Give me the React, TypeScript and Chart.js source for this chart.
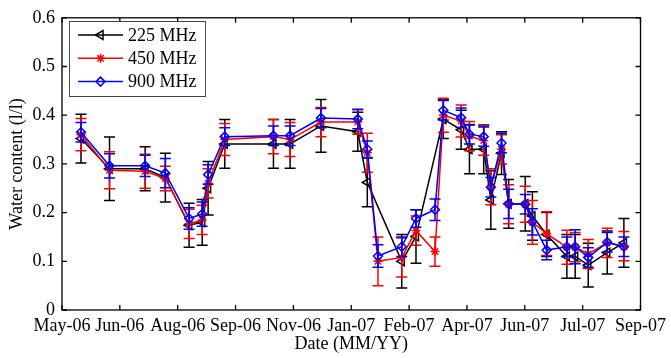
import React, { useEffect, useRef } from 'react';
import { Chart, registerables } from 'chart.js';

Chart.register(...registerables);

const FONT = "'Liberation Serif', 'Times New Roman', serif";

const TICK_LABELS = ['May-06', 'Jun-06', 'Aug-06', 'Sep-06', 'Nov-06', 'Jan-07', 'Feb-07', 'Apr-07', 'Jun-07', 'Jul-07', 'Sep-07'];
const X_SPAN_DAYS = 487;
const Y_TICKS = [0, 0.1, 0.2, 0.3, 0.4, 0.5, 0.6];

// sampling dates, in days from the start of the axis
const DAYS = [16, 40, 70, 87, 107, 118, 123, 137, 178, 192, 218, 249, 257, 266, 286, 298, 314, 321, 336, 343, 355, 361, 370, 376, 390, 396, 408, 425, 432, 443, 459, 473];

const WC_225 = [0.352, 0.29, 0.29, 0.272, 0.174, 0.18, 0.25, 0.341, 0.341, 0.341, 0.378, 0.366, 0.262, null, 0.10, 0.151, null, 0.392, 0.37, 0.33, 0.33, 0.226, 0.322, 0.218, 0.218, 0.193, 0.155, 0.11, 0.11, 0.092, 0.118, 0.138];
const ERR_225 = [0.05, 0.065, 0.045, 0.05, 0.045, 0.047, 0.055, 0.05, 0.05, 0.05, 0.054, 0.04, 0.05, null, 0.055, 0.055, null, 0.04, 0.04, 0.05, 0.05, 0.06, 0.044, 0.05, 0.056, 0.05, 0.045, 0.045, 0.045, 0.045, 0.044, 0.05];

const WC_450 = [0.36, 0.287, 0.285, 0.27, 0.177, 0.185, 0.26, 0.35, 0.356, 0.35, 0.386, 0.386, 0.323, 0.1, 0.108, 0.163, 0.12, 0.40, 0.388, 0.357, 0.348, 0.253, 0.33, 0.217, 0.217, 0.18, 0.157, 0.129, 0.129, 0.115, 0.138, 0.131];
const ERR_450 = [0.033, 0.038, 0.035, 0.025, 0.03, 0.03, 0.03, 0.033, 0.035, 0.035, 0.03, 0.025, 0.04, 0.05, 0.04, 0.03, 0.03, 0.035, 0.033, 0.03, 0.03, 0.037, 0.03, 0.04, 0.037, 0.045, 0.045, 0.035, 0.03, 0.03, 0.03, 0.03];

const WC_900 = [0.365, 0.296, 0.296, 0.281, 0.188, 0.197, 0.278, 0.356, 0.358, 0.358, 0.394, 0.392, 0.33, 0.111, 0.13, 0.188, 0.206, 0.41, 0.395, 0.361, 0.356, 0.252, 0.343, 0.218, 0.217, 0.181, 0.123, 0.13, 0.13, 0.108, 0.139, 0.13];
const ERR_900 = [0.02, 0.025, 0.022, 0.03, 0.022, 0.025, 0.02, 0.018, 0.02, 0.02, 0.02, 0.02, 0.017, 0.023, 0.02, 0.018, 0.022, 0.02, 0.02, 0.02, 0.02, 0.02, 0.02, 0.03, 0.02, 0.027, 0.02, 0.02, 0.035, 0.02, 0.02, 0.02];

const SERIES = [
  { label: '225 MHz', values: WC_225, errors: ERR_225, color: '#000000', style: 'triangle', order: 3 },
  { label: '450 MHz', values: WC_450, errors: ERR_450, color: '#ff0000', style: 'star', order: 2 },
  { label: '900 MHz', values: WC_900, errors: ERR_900, color: '#0000ff', style: 'rectRot', order: 1 },
];

const LINE_W = 1.5;

function buildPoints(values: (number | null)[], errors: (number | null)[]) {
  const pts: { x: number; y: number; e: number }[] = [];
  values.forEach((v, i) => {
    if (v !== null && v !== undefined) pts.push({ x: DAYS[i], y: v, e: (errors[i] as number) || 0 });
  });
  return pts;
}

const errorBarPlugin = {
  id: 'errorBars',
  beforeDatasetDraw(chart: any, args: any) {
    const ds = chart.data.datasets[args.index];
    const yScale = chart.scales.y;
    const ctx = chart.ctx;
    const area = chart.chartArea;
    ctx.save();
    ctx.beginPath();
    ctx.rect(area.left, area.top, area.right - area.left, area.bottom - area.top);
    ctx.clip();
    ctx.strokeStyle = ds.borderColor;
    ctx.lineWidth = LINE_W;
    args.meta.data.forEach((el: any, i: number) => {
      const p = ds.data[i];
      if (!p || p.e == null) return;
      const top = yScale.getPixelForValue(p.y + p.e);
      const bot = yScale.getPixelForValue(p.y - p.e);
      const x = el.x;
      const c = 5.5;
      ctx.beginPath();
      ctx.moveTo(x, top);
      ctx.lineTo(x, bot);
      ctx.moveTo(x - c, top);
      ctx.lineTo(x + c, top);
      ctx.moveTo(x - c, bot);
      ctx.lineTo(x + c, bot);
      ctx.stroke();
    });
    ctx.restore();
  },
};

function drawMarker(ctx: CanvasRenderingContext2D, style: string, x: number, y: number, r: number) {
  ctx.beginPath();
  if (style === 'triangle') {
    ctx.moveTo(x - r, y);
    ctx.lineTo(x + r * 0.5, y - r * 0.866);
    ctx.lineTo(x + r * 0.5, y + r * 0.866);
    ctx.closePath();
  } else if (style === 'star') {
    ctx.moveTo(x - r, y); ctx.lineTo(x + r, y);
    ctx.moveTo(x, y - r); ctx.lineTo(x, y + r);
    const d = r * 0.707;
    ctx.moveTo(x - d, y - d); ctx.lineTo(x + d, y + d);
    ctx.moveTo(x - d, y + d); ctx.lineTo(x + d, y - d);
  } else {
    ctx.moveTo(x, y - r); ctx.lineTo(x + r, y); ctx.lineTo(x, y + r); ctx.lineTo(x - r, y);
    ctx.closePath();
  }
  ctx.stroke();
}

const framePlugin = {
  id: 'frame',
  afterDraw(chart: any) {
    const ctx = chart.ctx;
    const { left, right, top, bottom } = chart.chartArea;
    const xs = chart.scales.x;
    const ys = chart.scales.y;
    ctx.save();
    ctx.strokeStyle = '#000';
    ctx.lineWidth = 1.3;
    ctx.strokeRect(left, top, right - left, bottom - top);
    const tl = 5;
    ctx.beginPath();
    xs.ticks.forEach((t: any) => {
      const px = xs.getPixelForValue(t.value);
      ctx.moveTo(px, bottom); ctx.lineTo(px, bottom - tl);
      ctx.moveTo(px, top); ctx.lineTo(px, top + tl);
    });
    ys.ticks.forEach((t: any) => {
      const py = ys.getPixelForValue(t.value);
      ctx.moveTo(left, py); ctx.lineTo(left + tl, py);
      ctx.moveTo(right, py); ctx.lineTo(right - tl, py);
    });
    ctx.stroke();

    // legend
    const bx = 69, by = 21, bw = 136, bh = 75;
    ctx.fillStyle = '#fff';
    ctx.fillRect(bx, by, bw, bh);
    ctx.strokeStyle = '#444';
    ctx.lineWidth = 1;
    ctx.strokeRect(bx + 0.5, by + 0.5, bw, bh);
    ctx.font = `18px ${FONT}`;
    ctx.textBaseline = 'middle';
    ctx.textAlign = 'left';
    SERIES.forEach((s, i) => {
      const ry = 35 + i * 23.3;
      ctx.strokeStyle = s.color;
      ctx.lineWidth = LINE_W;
      ctx.beginPath();
      ctx.moveTo(78, ry); ctx.lineTo(123, ry);
      ctx.stroke();
      drawMarker(ctx, s.style, 100.5, ry, s.style === 'triangle' ? 5 : 4.5);
      ctx.fillStyle = '#000';
      ctx.fillText(s.label, 128, ry + 1);
    });
    ctx.restore();
  },
};

export default function App() {
  const ref = useRef<HTMLCanvasElement>(null);
  useEffect(() => {
    if (!ref.current) return;
    const chart = new Chart(ref.current, {
      type: 'line',
      data: {
        datasets: SERIES.map((s) => ({
          label: s.label,
          data: buildPoints(s.values, s.errors),
          borderColor: s.color,
          backgroundColor: 'rgba(0,0,0,0)',
          borderWidth: LINE_W,
          pointStyle: s.style as any,
          pointRotation: s.style === 'triangle' ? -90 : 0,
          pointRadius: s.style === 'triangle' ? 5 : 4.5,
          pointBorderWidth: LINE_W,
          pointBorderColor: s.color,
          pointBackgroundColor: 'rgba(0,0,0,0)',
          tension: 0,
          order: s.order,
          spanGaps: true,
        })),
      },
      options: {
        animation: false,
        responsive: false,
        maintainAspectRatio: false,
        devicePixelRatio: 1,
        events: [],
        layout: { padding: { left: 0, top: 14, right: 28, bottom: 0 }, autoPadding: false },
        plugins: { legend: { display: false }, tooltip: { enabled: false } },
        scales: {
          x: {
            type: 'linear',
            min: 0,
            max: X_SPAN_DAYS,
            grid: { display: false, drawTicks: false },
            border: { display: false },
            afterBuildTicks: (scale: any) => {
              scale.ticks = TICK_LABELS.map((_, i) => ({ value: (i * X_SPAN_DAYS) / (TICK_LABELS.length - 1) }));
            },
            afterFit: (scale: any) => { scale.height = 48; },
            ticks: {
              autoSkip: false,
              maxRotation: 0,
              padding: 5,
              color: '#000',
              font: { family: FONT, size: 18 },
              callback: (_v: any, i: number) => TICK_LABELS[i],
            },
            title: {
              display: true,
              text: 'Date (MM/YY)',
              color: '#000',
              font: { family: FONT, size: 18 },
              padding: { top: 0, bottom: 3 },
            },
          },
          y: {
            type: 'linear',
            min: 0,
            max: 0.6,
            grid: { display: false, drawTicks: false },
            border: { display: false },
            afterBuildTicks: (scale: any) => {
              scale.ticks = Y_TICKS.map((v) => ({ value: v }));
            },
            afterFit: (scale: any) => { scale.width = 62; },
            ticks: {
              padding: 7,
              color: '#000',
              font: { family: FONT, size: 18 },
              callback: (v: any) => (Number(v) === 0 ? '0' : Number(v).toFixed(1)),
            },
            title: {
              display: true,
              text: 'Water content (l/l)',
              color: '#000',
              font: { family: FONT, size: 18 },
              padding: { top: 6.5, bottom: 0 },
            },
          },
        },
      },
      plugins: [errorBarPlugin, framePlugin],
    } as any);
    return () => chart.destroy();
  }, []);
  return (
    <div style={{ position: 'fixed', left: 0, top: 0, width: 671, height: 358, background: '#fff' }}>
      <canvas ref={ref} width={671} height={358} style={{ width: 671, height: 358, display: 'block' }} />
    </div>
  );
}
